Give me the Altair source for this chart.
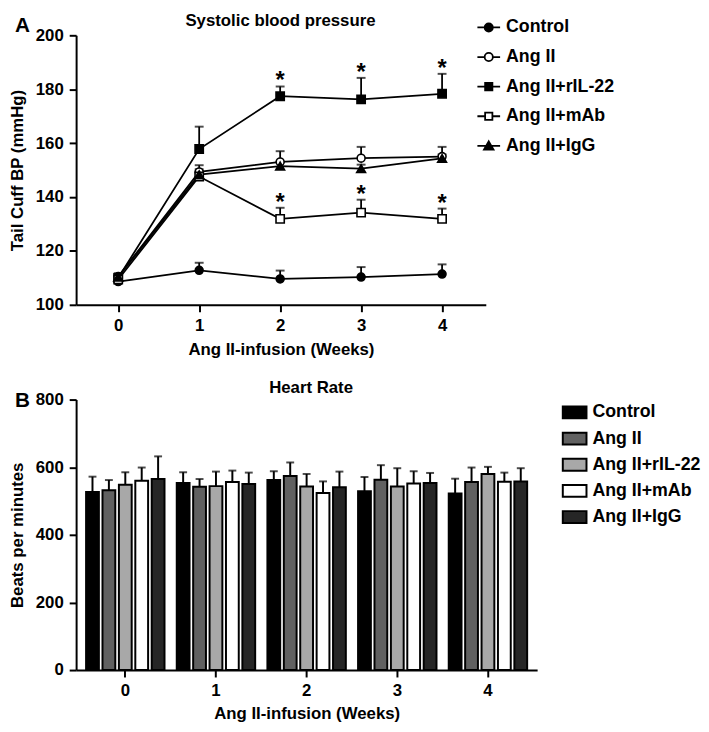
import altair as alt
import pandas as pd

FONT = "Liberation Sans"

weeks = [0, 1, 2, 3, 4]
groups = ["Control", "Ang II", "Ang II+rIL-22", "Ang II+mAb", "Ang II+IgG"]

# Panel A: systolic blood pressure (mean, upper error)
bp_control = [108.6, 112.8, 109.6, 110.3, 111.4]
bp_angii = [110.5, 149.3, 153.0, 154.4, 155.0]
bp_ril22 = [110.0, 157.8, 177.4, 176.2, 178.3]
bp_mab = [109.4, 147.6, 131.9, 134.2, 131.9]
bp_igg = [110.3, 148.3, 151.5, 150.5, 154.3]

err_control = [1.2, 2.8, 3.1, 3.7, 3.6]
err_angii = [1.2, 2.5, 4.0, 4.2, 3.6]
err_ril22 = [1.2, 8.3, 3.6, 8.0, 7.4]
err_mab = [1.2, 2.0, 4.1, 4.8, 3.8]
err_igg = [1.2, 2.0, 1.5, 1.5, 1.5]

star_groups = ["Ang II+rIL-22"] * 3 + ["Ang II+mAb"] * 3
star_weeks = [2, 3, 4, 2, 3, 4]

# Panel B: heart rate (mean, upper error)
hr_control = [527, 553, 562, 529, 522]
hr_angii = [532, 542, 574, 563, 556]
hr_ril22 = [548, 544, 543, 543, 580]
hr_mab = [560, 556, 524, 552, 557]
hr_igg = [565, 550, 541, 553, 558]

hr_err_control = [45, 32, 26, 42, 44]
hr_err_angii = [30, 23, 40, 43, 43]
hr_err_ril22 = [37, 43, 37, 54, 21]
hr_err_mab = [39, 34, 34, 36, 27]
hr_err_igg = [67, 34, 46, 30, 39]

bp_means = [bp_control, bp_angii, bp_ril22, bp_mab, bp_igg]
bp_errs = [err_control, err_angii, err_ril22, err_mab, err_igg]
hr_means = [hr_control, hr_angii, hr_ril22, hr_mab, hr_igg]
hr_errs = [hr_err_control, hr_err_angii, hr_err_ril22, hr_err_mab, hr_err_igg]

rows = []
for g, m, e in zip(groups, bp_means, bp_errs):
    for w, v, s in zip(weeks, m, e):
        rows.append({"group": g, "week": w, "bp": v, "top": v + s})
bp_df = pd.DataFrame(rows)

star_df = bp_df.merge(pd.DataFrame({"group": star_groups, "week": star_weeks}), on=["group", "week"])
star_df["star"] = "*"

rows = []
for g, m, e in zip(groups, hr_means, hr_errs):
    for w, v, s in zip(weeks, m, e):
        rows.append({"group": g, "week": str(w), "hr": v, "top": v + s})
hr_df = pd.DataFrame(rows)


def axis_style(**kw):
    d = dict(
        domainColor="black", domainWidth=2, tickColor="black", tickWidth=2, tickSize=7,
        labelFont=FONT, labelFontSize=17, labelFontWeight="bold", labelColor="black",
        titleFont=FONT, titleFontSize=17, titleFontWeight="bold", titleColor="black",
        grid=False, labelPadding=6,
    )
    d.update(kw)
    return d


def text_layer(label, x, y, size, align="left"):
    return alt.Chart(pd.DataFrame({"lab": [label]})).mark_text(
        font=FONT, fontSize=size, fontWeight="bold", align=align, baseline="alphabetic", color="black"
    ).encode(x=alt.value(x), y=alt.value(y), text="lab:N")


xA = alt.X("week:Q", scale=alt.Scale(domain=[-0.52, 4.54], nice=False, zero=False),
           axis=alt.Axis(values=weeks, format="d", title="Ang II-infusion (Weeks)", **axis_style(titlePadding=8)))
yA = alt.Y("bp:Q", scale=alt.Scale(domain=[100, 200], nice=False, zero=False),
           axis=alt.Axis(values=[100, 120, 140, 160, 180, 200], title="Tail Cuff BP (mmHg)", **axis_style(titlePadding=9)))

baseA = alt.Chart(bp_df)
lines = baseA.mark_line(color="black", strokeWidth=1.8).encode(x=xA, y=yA, detail="group:N")
err_rules = baseA.mark_rule(color="black", strokeWidth=1.8).encode(x=xA, y=yA, y2="top:Q")
caps = baseA.mark_tick(color="black", orient="horizontal", size=9, thickness=2).encode(x=xA, y=alt.Y("top:Q"))

marker_specs = [
    ("Control", "circle", "black", 64),
    ("Ang II", "circle", "white", 64),
    ("Ang II+rIL-22", "square", "black", 70),
    ("Ang II+mAb", "square", "white", 70),
    ("Ang II+IgG", "triangle-up", "black", 80),
]
point_layers = []
for g, shp, fc, sz in marker_specs:
    point_layers.append(
        baseA.transform_filter(alt.datum.group == g)
        .mark_point(shape=shp, filled=True, fill=fc, stroke="black", strokeWidth=1.6, size=sz, opacity=1)
        .encode(x=xA, y=yA)
    )

stars = alt.Chart(star_df).mark_text(font=FONT, fontSize=24, fontWeight="bold", baseline="alphabetic", dy=2, color="black").encode(
    x=xA, y=alt.Y("top:Q"), text="star:N")

c_path = "M-1,0H-0.36M0.36,0H1M0.36,0A0.36,0.36,0,1,1,-0.36,0A0.36,0.36,0,1,1,0.36,0Z"
s_path = "M-1,0H-0.32M0.32,0H1M-0.32,-0.32H0.32V0.32H-0.32Z"
t_path = "M-1,0H1M0,-0.4L0.42,0.32L-0.42,0.32Z"
legA = alt.Legend(title=None, orient="none", legendX=405.5, legendY=-20.5, labelFont=FONT, labelFontSize=18,
                  labelFontWeight="bold", labelColor="black", symbolSize=529, symbolStrokeColor="black",
                  symbolStrokeWidth=1.8, rowPadding=8, labelOffset=5, padding=0)
legend_layer = baseA.transform_filter("false").mark_point(filled=True, strokeWidth=1.8, size=529, opacity=1).encode(
    shape=alt.Shape("group:N", scale=alt.Scale(domain=groups, range=[c_path, c_path, s_path, s_path, t_path]), legend=legA),
    fill=alt.Fill("group:N", scale=alt.Scale(domain=groups, range=["black", "white", "black", "white", "black"]), legend=legA),
    stroke=alt.Stroke("group:N", scale=alt.Scale(domain=groups, range=["black"] * 5), legend=legA),
)

chartA = alt.layer(
    lines, err_rules, caps, *point_layers, stars, legend_layer,
    text_layer("A", -62, -3, 21),
    text_layer("Systolic blood pressure", 207, -9, 17, align="center"),
).properties(width=415, height=273)

# Panel B
xB = alt.X("week:O", scale=alt.Scale(paddingInner=0.135, paddingOuter=0.11),
           axis=alt.Axis(labelAngle=0, title="Ang II-infusion (Weeks)", **axis_style(titlePadding=7)))
offB = alt.XOffset("group:N", sort=groups, scale=alt.Scale(domain=groups, paddingInner=0.22))
yB = alt.Y("hr:Q", scale=alt.Scale(domain=[0, 800], nice=False),
           axis=alt.Axis(values=[0, 200, 400, 600, 800], title="Beats per minutes", **axis_style(titlePadding=9)))
legB = alt.Legend(title=None, orient="none", legendX=492, legendY=0, labelFont=FONT, labelFontSize=18,
                  labelFontWeight="bold", labelColor="black", symbolType="M-1,-0.5H1V0.5H-1Z", symbolSize=576,
                  symbolStrokeColor="black", symbolStrokeWidth=2, rowPadding=3.5, labelOffset=5, padding=0)
baseB = alt.Chart(hr_df)
bars = baseB.mark_bar(strokeWidth=2).encode(
    x=xB, xOffset=offB, y=yB,
    fill=alt.Fill("group:N", scale=alt.Scale(domain=groups, range=["#000000", "#616161", "#a8a8a8", "#ffffff", "#262626"]), legend=legB),
    stroke=alt.Stroke("group:N", scale=alt.Scale(domain=groups, range=["black"] * 5), legend=legB),
)
hr_rules = baseB.mark_rule(color="black", strokeWidth=2).encode(x=xB, xOffset=offB, y=yB, y2="top:Q")
hr_caps = baseB.mark_tick(color="black", orient="horizontal", size=8, thickness=2).encode(x=xB, xOffset=offB, y=alt.Y("top:Q"))

chartB = alt.layer(
    hr_rules, hr_caps, bars,
    text_layer("B", -62, 7.5, 21),
    text_layer("Heart Rate", 238, -7, 17, align="center"),
).properties(width=467, height=274)

chart = (
    alt.vconcat(chartA, chartB, spacing=22)
    .resolve_scale(fill="independent", shape="independent", stroke="independent")
    .resolve_legend(fill="independent", shape="independent", stroke="independent")
    .properties(padding=0)
    .configure_view(stroke=None)
)

chart.save("out.html", embed_options={"renderer": "svg", "actions": False})
